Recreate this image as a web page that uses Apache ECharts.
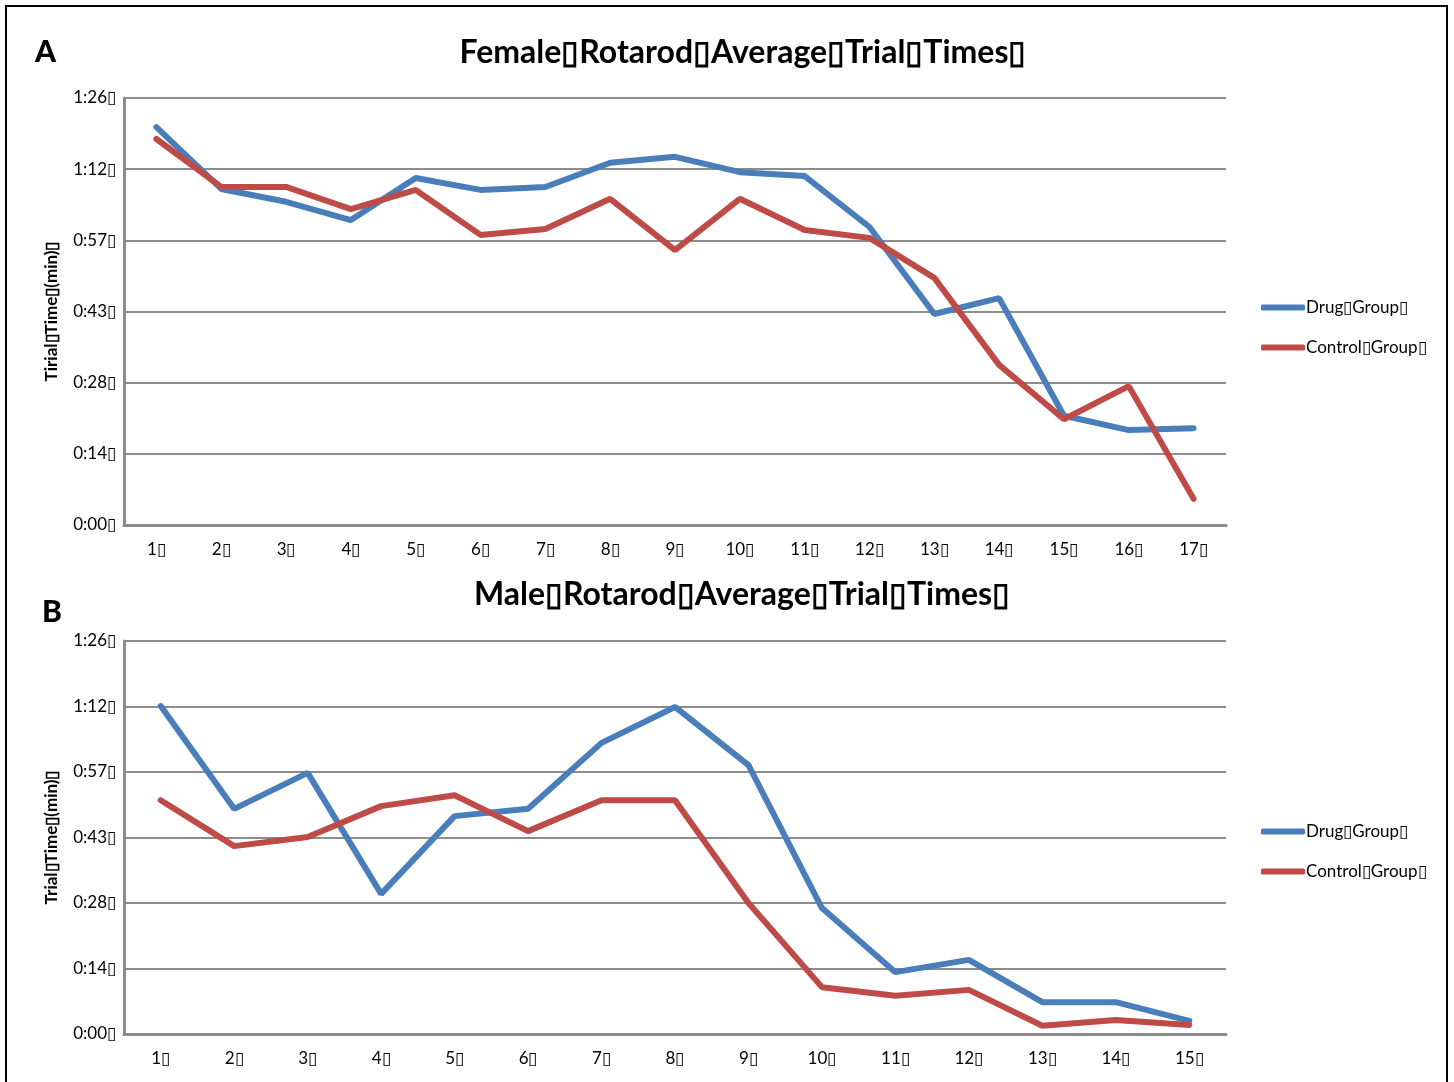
<!DOCTYPE html>
<html>
<head>
<meta charset="utf-8">
<script src="https://cdn.jsdelivr.net/npm/echarts@6/dist/echarts.min.js"></script>
<style>
  html, body { margin: 0; padding: 0; background: #fff; }
  #chart { width: 1454px; height: 1082px; }
</style>
</head>
<body>
<div id="chart"></div>
<script>
  const box = '\u25AF'
  // trial times in seconds
  const femaleTrials = ['1', '2', '3', '4', '5', '6', '7', '8', '9', '10', '11', '12', '13', '14', '15', '16', '17']
  const femaleDrug = [80.5, 68.0, 65.4, 61.7, 70.2, 67.8, 68.4, 73.3, 74.5, 71.4, 70.6, 60.3, 42.7, 45.9, 22.1, 19.2, 19.6]
  const femaleControl = [78.1, 68.4, 68.4, 63.9, 67.8, 58.7, 59.9, 66.0, 55.6, 66.0, 59.7, 58.1, 50.0, 32.4, 21.4, 28.1, 5.3]

  const maleTrials = ['1', '2', '3', '4', '5', '6', '7', '8', '9', '10', '11', '12', '13', '14', '15']
  const maleDrug = [72.1, 49.5, 57.4, 30.8, 47.9, 49.5, 64.0, 71.9, 59.1, 27.7, 13.6, 16.3, 7.0, 7.0, 2.9]
  const maleControl = [51.4, 41.3, 43.3, 50.1, 52.5, 44.6, 51.4, 51.4, 28.8, 10.3, 8.4, 9.7, 1.8, 3.1, 2.0]

  const drugName = 'Drug' + box + 'Group' + box
  const controlName = 'Control' + box + 'Group' + box
  const font = 'Lato, "Noto Sans", sans-serif'
  const gridGray = '#8c8c8c'

  function fmtTime (v) {
    const s = Math.floor(v + 1e-6)
    const m = Math.floor(s / 60)
    const r = s % 60
    return m + ':' + (r < 10 ? '0' : '') + r + box
  }

  function xAxis (idx, cats) {
    return {
      type: 'category',
      gridIndex: idx,
      data: cats.map(c => c + box),
      boundaryGap: true,
      axisLine: { lineStyle: { color: gridGray, width: 3 } },
      axisTick: { show: false },
      axisLabel: { color: '#000', fontSize: 17, fontFamily: font, margin: 16 }
    }
  }

  function yAxis (idx, name) {
    return {
      type: 'value',
      gridIndex: idx,
      min: 0,
      max: 86.4,
      interval: 14.4,
      name: name,
      nameLocation: 'middle',
      nameGap: 64,
      nameTextStyle: { color: '#000', fontSize: 17, fontWeight: 'bold', fontFamily: font },
      axisLine: { show: true, lineStyle: { color: gridGray, width: 3 } },
      axisTick: { show: false },
      axisLabel: { color: '#000', fontSize: 17, fontFamily: font, margin: 8, formatter: fmtTime },
      splitLine: { lineStyle: { color: gridGray, width: 2 } }
    }
  }

  function line (name, idx, data, color) {
    return {
      name: name,
      type: 'line',
      xAxisIndex: idx,
      yAxisIndex: idx,
      data: data,
      symbol: 'none',
      color: color,
      lineStyle: { width: 6, color: color, cap: 'round' }
    }
  }

  function legend (top) {
    return {
      orient: 'vertical',
      left: 1256,
      top: top,
      itemWidth: 44,
      itemHeight: 6,
      itemGap: 23,
      icon: 'roundRect',
      data: [drugName, controlName],
      textStyle: { color: '#000', fontSize: 17, fontFamily: font, padding: [0, 0, 0, -4] }
    }
  }

  const chart = echarts.init(document.getElementById('chart'))
  chart.setOption({
    animation: false,
    backgroundColor: '#fff',
    title: [
      { text: 'A', left: 30, top: 32, textStyle: { fontSize: 30, fontWeight: 900, fontFamily: font, color: '#000' } },
      { text: 'Female' + box + 'Rotarod' + box + 'Average' + box + 'Trial' + box + 'Times' + box, left: 738, top: 32, textAlign: 'center', textStyle: { fontSize: 32, fontWeight: 'bold', fontFamily: font, color: '#000' } },
      { text: 'B', left: 37, top: 592, textStyle: { fontSize: 30, fontWeight: 900, fontFamily: font, color: '#000' } },
      { text: 'Male' + box + 'Rotarod' + box + 'Average' + box + 'Trial' + box + 'Times' + box, left: 737, top: 574, textAlign: 'center', textStyle: { fontSize: 32, fontWeight: 'bold', fontFamily: font, color: '#000' } }
    ],
    legend: [legend(294), legend(818)],
    grid: [
      { left: 124, top: 98, width: 1102, height: 427 },
      { left: 124, top: 641, width: 1102, height: 393 }
    ],
    xAxis: [xAxis(0, femaleTrials), xAxis(1, maleTrials)],
    yAxis: [
      yAxis(0, 'Tirial' + box + 'Time' + box + '(min)' + box),
      yAxis(1, 'Trial' + box + 'Time' + box + '(min)' + box)
    ],
    series: [
      line(drugName, 0, femaleDrug, '#4a7ebb'),
      line(controlName, 0, femaleControl, '#be4b48'),
      line(drugName, 1, maleDrug, '#4a7ebb'),
      line(controlName, 1, maleControl, '#be4b48')
    ],
    graphic: [
      {
        type: 'rect',
        shape: { x: 6, y: 6, width: 1441, height: 1090 },
        style: { fill: 'none', stroke: '#000', lineWidth: 2 },
        silent: true
      }
    ]
  })
</script>
</body>
</html>
